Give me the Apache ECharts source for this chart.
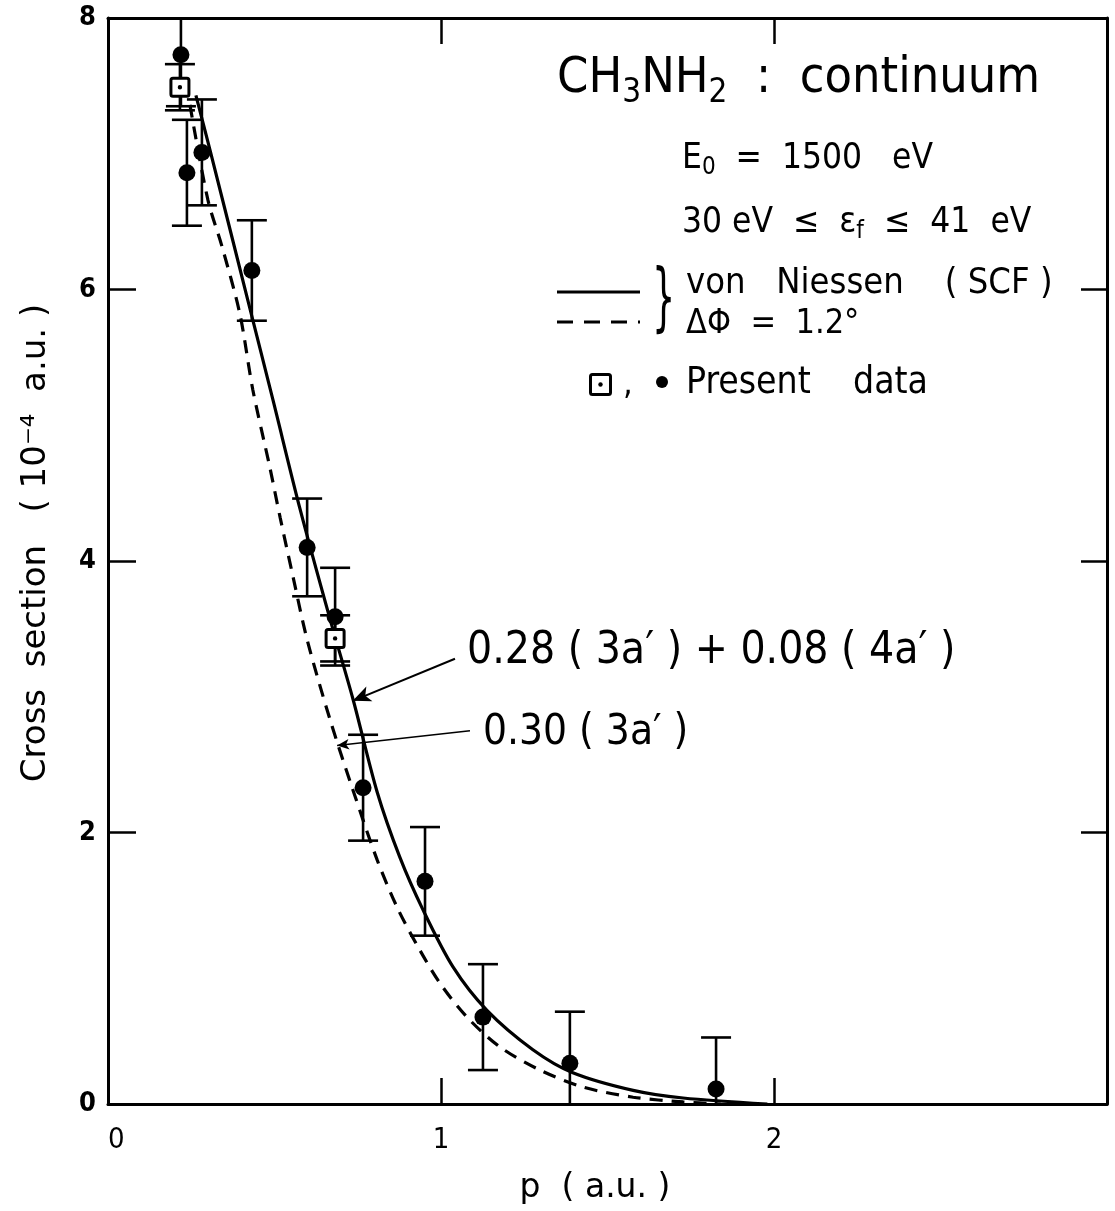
<!DOCTYPE html>
<html>
<head>
<meta charset="utf-8">
<script src="https://cdn.jsdelivr.net/npm/echarts@6/dist/echarts.min.js"></script>
<style>
html,body{margin:0;padding:0;background:#fff;}
#chart{width:1115px;height:1211px;}
</style>
</head>
<body>
<div id="chart"></div>
<script>
// ---- data ----
const circleX   = [0.219, 0.237, 0.282, 0.432, 0.598, 0.682, 0.766, 0.952, 1.126, 1.387, 1.826];
const circleY   = [7.73, 6.86, 7.01, 6.14, 4.10, 3.59, 2.33, 1.64, 0.64, 0.30, 0.11];
const circleErr = [0.38, 0.39, 0.39, 0.37, 0.36, 0.36, 0.39, 0.40, 0.39, 0.38, 0.38];

const squareX   = [0.216, 0.682];
const squareY   = [7.49, 3.43];
const squareErr = [0.17, 0.17];

// solid: 0.28(3a') + 0.08(4a')
const solidX = [0.264, 0.306, 0.420, 0.495, 0.577, 0.667, 0.736, 0.808, 0.876, 0.946, 1.036, 1.138, 1.276, 1.396, 1.577, 1.727, 1.98];
const solidY = [7.43, 7.03, 5.92, 5.19, 4.38, 3.57, 2.98, 2.30, 1.82, 1.43, 1.01, 0.69, 0.40, 0.23, 0.10, 0.044, 0.0];

// dashed: 0.30(3a')
const dashedX = [0.246, 0.300, 0.342, 0.396, 0.435, 0.486, 0.517, 0.556, 0.598, 0.667, 0.736, 0.808, 0.868, 0.928, 0.997, 1.078, 1.177, 1.297, 1.426, 1.577, 1.727, 1.84];
const dashedY = [7.36, 6.66, 6.32, 5.82, 5.26, 4.69, 4.32, 3.88, 3.42, 2.83, 2.31, 1.80, 1.45, 1.17, 0.89, 0.64, 0.42, 0.25, 0.125, 0.05, 0.015, 0.0];

const xTickLabels = ['  0', '1', '2', ''];
const yTickLabels = ['0', '2', '4', '6', '8'];

// annotation arrows [fromX, fromY, toX, toY]
const arrowSolid  = [1.042, 3.28, 0.735, 2.97];
const arrowDashed = [1.087, 2.75, 0.688, 2.64];

// ---- chart ----
const FONT = '"DejaVu Sans Condensed", "Liberation Sans Narrow", "DejaVu Sans", sans-serif';
const FONT_R = '"DejaVu Sans", sans-serif';
const X_MIN = 0, X_MAX = 3, Y_MIN = 0, Y_MAX = 8;

const zip = (a, b) => a.map((v, i) => [v, b[i]]);
const zip3 = (a, b, c) => a.map((v, i) => [v, b[i], c[i]]);

function errorBarRender(params, api) {
  const x = api.value(0), y = api.value(1), e = api.value(2);
  const hi = Math.min(y + e, Y_MAX), lo = Math.max(y - e, Y_MIN);
  const pHi = api.coord([x, hi]), pLo = api.coord([x, lo]);
  const hw = 15;
  const style = { stroke: '#000', lineWidth: 2.6 };
  const children = [{ type: 'line', shape: { x1: pHi[0], y1: pHi[1], x2: pLo[0], y2: pLo[1] }, style }];
  if (y + e <= Y_MAX) children.push({ type: 'line', shape: { x1: pHi[0] - hw, y1: pHi[1], x2: pHi[0] + hw, y2: pHi[1] }, style });
  if (y - e >= Y_MIN) children.push({ type: 'line', shape: { x1: pLo[0] - hw, y1: pLo[1], x2: pLo[0] + hw, y2: pLo[1] }, style });
  return { type: 'group', children };
}

function squareRender(params, api) {
  const p = api.coord([api.value(0), api.value(1)]);
  const s = 18;
  return {
    type: 'group',
    children: [
      { type: 'rect', shape: { x: p[0] - s / 2, y: p[1] - s / 2, width: s, height: s, r: 2 }, style: { fill: '#fff', stroke: '#000', lineWidth: 3 } },
      { type: 'circle', shape: { cx: p[0], cy: p[1], r: 2.2 }, style: { fill: '#000' } }
    ]
  };
}

const axisLineStyle = { color: '#000', width: 3 };
const tickStyle = { color: '#000', width: 2.5 };

const chart = echarts.init(document.getElementById('chart'), null, { renderer: 'canvas' });

const subRich = (n, s, lh) => ({
  n: { fontSize: n, lineHeight: lh, fontFamily: FONT, fill: '#000' },
  s: { fontSize: s, lineHeight: Math.round(s * 1.1), verticalAlign: 'bottom', fontFamily: FONT, fill: '#000' }
});

const option = {
  animation: false,
  backgroundColor: '#fff',
  grid: { left: 108, right: 8, top: 18, bottom: 107 },
  xAxis: [
    {
      type: 'value', min: X_MIN, max: X_MAX, interval: 1, position: 'bottom',
      axisLine: { show: true, onZero: false, lineStyle: axisLineStyle },
      axisTick: { show: true, inside: true, length: 26, lineStyle: tickStyle },
      axisLabel: { margin: 22, fontSize: 29, color: '#000', fontFamily: FONT, formatter: (v) => xTickLabels[Math.round(v)] },
      splitLine: { show: false }
    },
    {
      type: 'value', min: X_MIN, max: X_MAX, interval: 1, position: 'top',
      axisLine: { show: true, onZero: false, lineStyle: axisLineStyle },
      axisTick: { show: true, inside: true, length: 26, lineStyle: tickStyle },
      axisLabel: { show: false }, splitLine: { show: false }
    }
  ],
  yAxis: [
    {
      type: 'value', min: Y_MIN, max: Y_MAX, interval: 2, position: 'left',
      axisLine: { show: true, onZero: false, lineStyle: axisLineStyle },
      axisTick: { show: true, inside: true, length: 28, lineStyle: tickStyle },
      axisLabel: { margin: 12, fontSize: 27, fontWeight: 'bold', color: '#000', fontFamily: FONT, formatter: (v) => yTickLabels[Math.round(v / 2)] },
      splitLine: { show: false }
    },
    {
      type: 'value', min: Y_MIN, max: Y_MAX, interval: 2, position: 'right',
      axisLine: { show: true, onZero: false, lineStyle: axisLineStyle },
      axisTick: { show: true, inside: true, length: 26, lineStyle: tickStyle },
      axisLabel: { show: false }, splitLine: { show: false }
    }
  ],
  series: [
    {
      name: 'errCircle', type: 'custom', renderItem: errorBarRender, data: zip3(circleX, circleY, circleErr),
      encode: { x: 0, y: 1 }, z: 3
    },
    {
      name: 'errSquare', type: 'custom', renderItem: errorBarRender, data: zip3(squareX, squareY, squareErr),
      encode: { x: 0, y: 1 }, z: 3
    },
    {
      name: 'solid', type: 'line', data: zip(solidX, solidY), smooth: 0.3, symbol: 'none',
      lineStyle: { color: '#000', width: 3.2 }, z: 4,
      markLine: {
        silent: true, symbol: ['none', 'arrow'], symbolSize: [12, 18], animation: false,
        label: { show: false },
        lineStyle: { color: '#000', width: 2, type: 'solid' },
        data: [[{ coord: [arrowSolid[0], arrowSolid[1]] }, { coord: [arrowSolid[2], arrowSolid[3]] }]]
      }
    },
    {
      name: 'dashed', type: 'line', data: zip(dashedX, dashedY), smooth: 0.3, symbol: 'none',
      lineStyle: { color: '#000', width: 3.2, type: [13, 9] }, z: 4,
      markLine: {
        silent: true, symbol: ['none', 'arrow'], symbolSize: [8, 12], animation: false,
        label: { show: false },
        lineStyle: { color: '#000', width: 1.5, type: 'solid' },
        data: [[{ coord: [arrowDashed[0], arrowDashed[1]] }, { coord: [arrowDashed[2], arrowDashed[3]] }]]
      }
    },
    {
      name: 'circles', type: 'scatter', data: zip(circleX, circleY), symbol: 'circle', symbolSize: 17,
      itemStyle: { color: '#000', opacity: 1 }, z: 6
    },
    {
      name: 'squares', type: 'custom', renderItem: squareRender, data: zip(squareX, squareY),
      encode: { x: 0, y: 1 }, z: 7
    }
  ],
  graphic: [
    // axis titles
    {
      type: 'text', z: 100, x: 36, y: 543, rotation: Math.PI / 2,
      style: { text: 'Cross  section   ( 10⁻⁴  a.u. )', fontSize: 34, fontFamily: FONT_R, fill: '#000', align: 'center', verticalAlign: 'middle' }
    },
    {
      type: 'text', z: 100, x: 595, y: 1188,
      style: { text: 'p  ( a.u. )', fontSize: 33, fontFamily: FONT_R, fill: '#000', align: 'center', verticalAlign: 'middle' }
    },
    // title
    {
      type: 'text', left: 557, top: 54, z: 100,
      style: { text: '{n|CH}{s|3}{n|NH}{s|2}{n|  :  continuum}', fill: '#000', rich: subRich(50, 33, 62) }
    },
    {
      type: 'text', left: 682, top: 141, z: 100,
      style: { text: '{n|E}{s|0}{n|  =  1500   eV}', fill: '#000', rich: subRich(35, 24, 42) }
    },
    {
      type: 'text', left: 682, top: 205, z: 100,
      style: { text: '{n|30 eV  ≤  ε}{s|f}{n|  ≤  41  eV}', fill: '#000', rich: subRich(35, 24, 42) }
    },
    { type: 'line', z: 100, shape: { x1: 557, y1: 292, x2: 640, y2: 292 }, style: { stroke: '#000', lineWidth: 3.2 } },
    { type: 'line', z: 100, shape: { x1: 557, y1: 322, x2: 640, y2: 322 }, style: { stroke: '#000', lineWidth: 3.2, lineDash: [16, 11] } },
    { type: 'text', z: 100, x: 652, y: 266, scaleX: 0.55, style: { text: '}', fontSize: 74, fontFamily: FONT, fill: '#000' } },
    { type: 'text', z: 100, left: 686, top: 266, style: { text: 'von   Niessen    ( SCF )', fontSize: 36, fontFamily: FONT, fill: '#000' } },
    { type: 'text', z: 100, left: 686, top: 307, style: { text: 'ΔΦ  =  1.2°', fontSize: 34, fontFamily: FONT, fill: '#000' } },
    // present data legend
    {
      type: 'group', z: 100, left: 589, top: 373,
      children: [
        { type: 'rect', shape: { x: 0, y: 0, width: 20, height: 20, r: 2 }, style: { fill: '#fff', stroke: '#000', lineWidth: 3 } },
        { type: 'circle', shape: { cx: 10, cy: 10, r: 2.2 }, style: { fill: '#000' } }
      ]
    },
    { type: 'text', z: 100, left: 623, top: 368, style: { text: ',', fontSize: 34, fontFamily: FONT, fill: '#000' } },
    { type: 'circle', z: 100, shape: { cx: 662, cy: 382, r: 6 }, style: { fill: '#000' } },
    { type: 'text', z: 100, left: 686, top: 365, style: { text: 'Present    data', fontSize: 37, fontFamily: FONT, fill: '#000' } },
    // annotations
    { type: 'text', z: 100, left: 467, top: 630, style: { text: '0.28 ( 3a′ ) + 0.08 ( 4a′ )', fontSize: 44, fontFamily: FONT, fill: '#000' } },
    { type: 'text', z: 100, left: 483, top: 712, style: { text: '0.30 ( 3a′ )', fontSize: 42, fontFamily: FONT, fill: '#000' } }
  ]
};

chart.setOption(option);
</script>
</body>
</html>
